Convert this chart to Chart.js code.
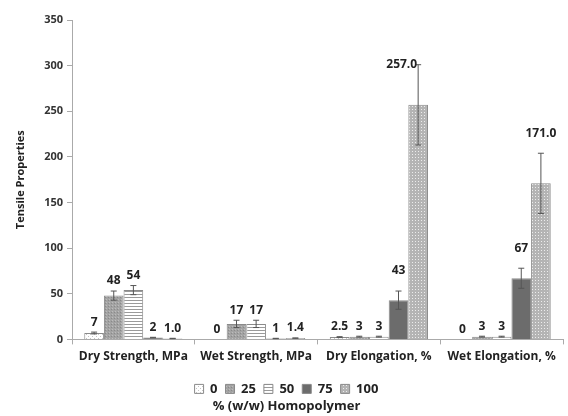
<!DOCTYPE html>
<html>
<head>
<meta charset="utf-8">
<script src="https://cdn.jsdelivr.net/npm/chart.js@4/dist/chart.umd.min.js"></script>
<style>
html,body{margin:0;padding:0;background:#fff;}
#wrap{width:568px;height:416px;}
</style>
</head>
<body>
<div id="wrap"><canvas id="c" width="568" height="416"></canvas></div>
<script>
const categories = ["Dry Strength, MPa", "Wet Strength, MPa", "Dry Elongation, %", "Wet Elongation, %"];
const seriesNames = ["0", "25", "50", "75", "100"];
const values0   = [7, 0, 2.5, 0];
const values25  = [48, 17, 3, 3];
const values50  = [54, 17, 3, 3];
const values75  = [2, 1, 43, 67];
const values100 = [1.0, 1.4, 257, 171];
const errors0   = [1, 0, 0.5, 0];
const errors25  = [5, 4, 0.5, 0.5];
const errors50  = [5, 4, 0.5, 0.5];
const errors75  = [0.3, 0.2, 10, 11];
const errors100 = [0.2, 0.2, 44, 33];
const labels0   = ["7", "0", "2.5", "0"];
const labels25  = ["48", "17", "3", "3"];
const labels50  = ["54", "17", "3", "3"];
const labels75  = ["2", "1", "43", "67"];
const labels100 = ["1.0", "1.4", "257.0", "171.0"];
const yTicks = [0, 50, 100, 150, 200, 250, 300, 350];

function pat(size, bg, drawFn) {
  const c = document.createElement('canvas');
  c.width = size; c.height = size;
  const x = c.getContext('2d');
  x.fillStyle = bg; x.fillRect(0, 0, size, size);
  drawFn(x);
  return x.createPattern(c, 'repeat');
}
const p0 = pat(4, '#ffffff', x => { x.fillStyle = '#c4c4c4'; x.fillRect(0,0,1,1); x.fillRect(2,2,1,1); });
const p25 = pat(3, '#a3a3a3', x => { x.fillStyle = '#8a8a8a'; x.fillRect(0,0,1,1); x.fillStyle='#bcbcbc'; x.fillRect(1,2,1,1); });
const p50 = pat(3, '#ffffff', x => { x.fillStyle = '#9a9a9a'; x.fillRect(0,0,3,1); });
const p75 = '#6c6c6c';
const p100 = pat(3, '#b4b4b4', x => { x.fillStyle = '#ececec'; x.fillRect(1,1,1,1); });

const fills = [p0, p25, p50, p75, p100];
const vals = [values0, values25, values50, values75, values100];
const errs = [errors0, errors25, errors50, errors75, errors100];
const labs = [labels0, labels25, labels50, labels75, labels100];

const FONT = "'Open Sans', 'Noto Sans', sans-serif";

const legendFitPlugin = {
  id: 'legendFit',
  beforeLayout(chart) {
    const lg = chart.legend;
    if (lg && !lg._patched) {
      const orig = lg.fit;
      lg.fit = function () { orig.call(this); this.height = Math.max(0, this.height - 7); };
      lg._patched = true;
    }
  }
};

const errPlugin = {
  id: 'errLabels',
  afterDatasetsDraw(chart) {
    const ctx = chart.ctx;
    const ys = chart.scales.y;
    ctx.save();
    chart.data.datasets.forEach((ds, i) => {
      const meta = chart.getDatasetMeta(i);
      meta.data.forEach((bar, j) => {
        const v = ds.data[j], e = errs[i][j];
        const x = bar.x;
        const yTop = ys.getPixelForValue(v + e);
        const yBot = ys.getPixelForValue(Math.max(0, v - e));
        if (e > 0) {
          ctx.strokeStyle = '#555';
          ctx.lineWidth = 1;
          ctx.beginPath();
          ctx.moveTo(x, yTop); ctx.lineTo(x, yBot);
          ctx.moveTo(x - 3, yTop); ctx.lineTo(x + 3, yTop);
          ctx.moveTo(x - 3, yBot); ctx.lineTo(x + 3, yBot);
          ctx.stroke();
        }
        ctx.fillStyle = '#222';
        ctx.font = "bold 12px " + FONT;
        const t = labs[i][j];
        if (t === "257.0") {
          ctx.textAlign = 'right'; ctx.textBaseline = 'middle';
          ctx.fillText(t, x - 1, yTop);
        } else {
          ctx.textAlign = 'center'; ctx.textBaseline = 'bottom';
          const off = (i >= 3 && v > 30) ? 14 : 4;
          ctx.fillText(t, x, Math.min(yTop, bar.y) - off);
        }
      });
    });
    ctx.restore();
  }
};

new Chart(document.getElementById('c'), {
  type: 'bar',
  data: {
    labels: categories,
    datasets: seriesNames.map((n, i) => ({
      label: n,
      data: vals[i],
      backgroundColor: fills[i],
      borderColor: '#8a8a8a',
      borderWidth: 1,
      categoryPercentage: 0.8,
      barPercentage: 1.0
    }))
  },
  options: {
    responsive: false,
    animation: false,
    layout: { padding: { top: 20, right: 5, left: 10, bottom: 0 } },
    scales: {
      x: {
        grid: { display: true, drawOnChartArea: false, color: '#aaa', tickLength: 5, offset: true },
        border: { color: '#aaa' },
        ticks: { color: '#222', font: { family: FONT, size: 12, weight: 'bold' }, padding: 5 },
        afterFit: s => { s.height = 35; }
      },
      y: {
        min: 0, max: 350,
        afterBuildTicks: s => { s.ticks = yTicks.map(v => ({ value: v })); },
        grid: { display: true, drawOnChartArea: false, color: '#aaa', tickLength: 5 },
        border: { color: '#aaa' },
        ticks: { color: '#333', font: { family: FONT, size: 11, weight: 'bold' }, padding: 4 },
        title: { display: true, text: 'Tensile Properties', color: '#222', font: { family: FONT, size: 11, weight: 'bold' }, padding: 4 },
        afterFit: s => { s.width = 62; }
      }
    },
    plugins: {
      legend: {
        position: 'bottom',
        labels: { boxWidth: 9, boxHeight: 9, padding: 8, color: '#222', font: { family: FONT, size: 13, weight: 'bold' } }
      },
      title: {
        display: true, position: 'bottom', text: '% (w/w) Homopolymer', color: '#222',
        font: { family: FONT, size: 13, weight: 'bold' }, padding: { top: 0, bottom: 2 }
      },
      tooltip: { enabled: false }
    }
  },
  plugins: [legendFitPlugin, errPlugin]
});
</script>
</body>
</html>
